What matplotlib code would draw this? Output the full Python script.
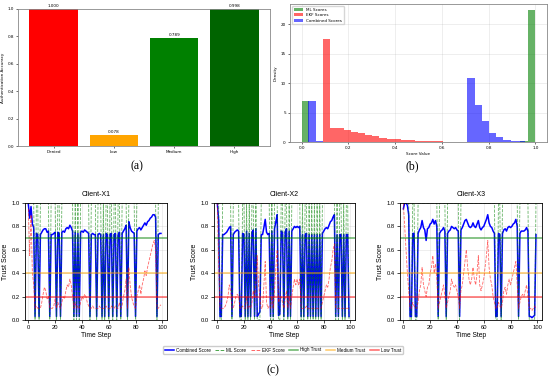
import numpy as np
import matplotlib
matplotlib.use("Agg")
import matplotlib.pyplot as plt
from matplotlib.lines import Line2D

# ---------------- data ----------------
# (a) authentication accuracy per trust level
auth_levels = ["Denied", "Low", "Medium", "High"]
auth_accuracy = [1.000, 0.078, 0.789, 0.998]
auth_colors = ["red", "orange", "green", "darkgreen"]

# (b) score distributions (density per bin), bins given by range and count
ml_range = (0.0, 1.0)
ml_density = [7.0, 0, 0, 0, 0, 0, 0, 0, 0, 0, 0, 0, 0, 0, 0,
              0, 0, 0, 0, 0, 0, 0, 0, 0, 0, 0, 0, 0, 0.25, 22.4]
ekf_range = (0.0905, 1.0)
ekf_density = [17.4, 2.3, 2.35, 2.1, 1.7, 1.45, 1.2, 0.95, 0.75, 0.55,
               0.45, 0.36, 0.28, 0.22, 0.17, 0.13, 0.1, 0.08, 0.06, 0.05,
               0.03, 0.02, 0.01, 0.01, 0, 0, 0, 0, 0, 0.01]
comb_range = (0.029, 0.956)
comb_density = [6.9, 0.2, 0.03, 0.03, 0.03, 0.03, 0.03, 0.03, 0.03, 0.03,
                0.03, 0.03, 0.03, 0.03, 0.03, 0.03, 0.03, 0.04, 0.04, 0.05,
                0.05, 0.06, 10.9, 6.3, 3.5, 1.5, 0.8, 0.4, 0.2, 0.15]

# (c) trust score time series for three clients
time_steps = list(range(100))
client_names = ["Client-X1", "Client-X2", "Client-X3"]

x1_ml = [1, 1, 1, 1, 1, 0, 1, 1, 0, 1,
         1, 1, 1, 1, 1, 1, 0, 1, 1, 1,
         1, 0, 1, 1, 0, 1, 1, 1, 1, 1,
         1, 1, 1, 1, 0, 1, 0, 1, 0, 1,
         1, 1, 1, 1, 1, 1, 0, 1, 1, 1,
         1, 0, 1, 1, 1, 0, 1, 0, 1, 1,
         0, 1, 1, 0, 1, 1, 0, 1, 1, 0,
         1, 1, 1, 1, 0, 1, 1, 1, 1, 1,
         0, 1, 1, 1, 1, 1, 1, 1, 1, 1,
         1, 1, 1, 1, 1, 1, 0, 1, 1, 1]
x1_ekf = [0.95, 0.55, 0.9, 0.4, 0.3, 0.1, 0.12, 0.1, 0.1, 0.1,
          0.15, 0.22, 0.28, 0.25, 0.18, 0.2, 0.1, 0.1, 0.1, 0.12,
          0.18, 0.1, 0.15, 0.12, 0.1, 0.15, 0.2, 0.18, 0.25, 0.3,
          0.28, 0.35, 0.3, 0.2, 0.1, 0.15, 0.1, 0.12, 0.1, 0.15,
          0.2, 0.18, 0.22, 0.2, 0.15, 0.12, 0.1, 0.1, 0.12, 0.1,
          0.1, 0.1, 0.1, 0.12, 0.1, 0.1, 0.1, 0.1, 0.12, 0.1,
          0.1, 0.1, 0.12, 0.1, 0.1, 0.12, 0.1, 0.1, 0.15, 0.1,
          0.12, 0.2, 0.25, 0.35, 0.1, 0.45, 0.3, 0.2, 0.15, 0.12,
          0.1, 0.2, 0.25, 0.3, 0.22, 0.3, 0.35, 0.42, 0.38, 0.45,
          0.5, 0.55, 0.6, 0.65, 0.68, 0.6, 0.1, 0.1, 0.12, 0.13]
x1_comb = [0.99, 0.87, 0.97, 0.82, 0.79, 0.03, 0.74, 0.73, 0.03, 0.73,
           0.75, 0.77, 0.78, 0.78, 0.75, 0.76, 0.03, 0.73, 0.73, 0.74,
           0.75, 0.03, 0.75, 0.74, 0.03, 0.75, 0.76, 0.75, 0.78, 0.79,
           0.78, 0.81, 0.79, 0.76, 0.03, 0.75, 0.03, 0.74, 0.03, 0.75,
           0.76, 0.75, 0.77, 0.76, 0.75, 0.74, 0.03, 0.73, 0.74, 0.73,
           0.73, 0.03, 0.73, 0.74, 0.73, 0.03, 0.73, 0.03, 0.74, 0.73,
           0.03, 0.73, 0.74, 0.03, 0.73, 0.74, 0.03, 0.73, 0.75, 0.03,
           0.74, 0.76, 0.78, 0.81, 0.03, 0.84, 0.79, 0.76, 0.75, 0.74,
           0.03, 0.76, 0.78, 0.79, 0.77, 0.79, 0.81, 0.83, 0.81, 0.84,
           0.85, 0.87, 0.88, 0.9, 0.9, 0.88, 0.03, 0.73, 0.74, 0.74]

x2_ml = [1, 1, 0, 0, 1, 1, 1, 1, 1, 1,
         1, 0, 1, 1, 1, 1, 1, 0, 0, 1,
         1, 0, 1, 0, 1, 0, 1, 1, 0, 1,
         0, 0, 0, 1, 1, 1, 1, 1, 1, 1,
         0, 1, 0, 1, 1, 1, 0, 0, 1, 1,
         0, 1, 1, 0, 1, 0, 1, 1, 1, 1,
         1, 1, 1, 0, 1, 0, 1, 1, 0, 1,
         0, 1, 0, 1, 0, 1, 0, 1, 0, 1,
         1, 1, 1, 1, 1, 1, 1, 1, 1, 0,
         1, 0, 1, 1, 0, 1, 0, 1, 1, 0]
x2_ekf = [1.0, 0.5, 0.1, 0.1, 0.1, 0.1, 0.12, 0.15, 0.2, 0.3,
          0.25, 0.1, 0.1, 0.15, 0.2, 0.22, 0.2, 0.1, 0.1, 0.12,
          0.1, 0.1, 0.2, 0.1, 0.12, 0.1, 0.15, 0.25, 0.2, 0.3,
          0.55, 0.3, 0.2, 0.1, 0.1, 0.3, 0.5, 0.15, 0.1, 0.12,
          0.1, 0.2, 0.1, 0.25, 0.45, 0.6, 0.15, 0.18, 0.2, 0.15,
          0.1, 0.18, 0.25, 0.1, 0.2, 0.1, 0.2, 0.28, 0.35, 0.3,
          0.35, 0.3, 0.35, 0.1, 0.1, 0.1, 0.1, 0.12, 0.1, 0.1,
          0.1, 0.1, 0.1, 0.1, 0.1, 0.1, 0.1, 0.1, 0.1, 0.15,
          0.2, 0.25, 0.3, 0.28, 0.35, 0.45, 0.5, 0.6, 0.65, 0.1,
          0.1, 0.1, 0.1, 0.1, 0.1, 0.1, 0.1, 0.1, 0.1, 0.1]
x2_comb = [1.0, 0.85, 0.03, 0.03, 0.73, 0.73, 0.74, 0.75, 0.77, 0.79,
           0.8, 0.03, 0.73, 0.75, 0.76, 0.77, 0.76, 0.03, 0.03, 0.74,
           0.73, 0.03, 0.76, 0.03, 0.74, 0.03, 0.75, 0.77, 0.03, 0.78,
           0.03, 0.05, 0.07, 0.73, 0.73, 0.79, 0.86, 0.75, 0.73, 0.74,
           0.03, 0.76, 0.03, 0.78, 0.84, 0.9, 0.04, 0.05, 0.76, 0.75,
           0.03, 0.75, 0.78, 0.03, 0.76, 0.03, 0.76, 0.78, 0.8, 0.79,
           0.8, 0.79, 0.8, 0.03, 0.73, 0.03, 0.73, 0.74, 0.03, 0.73,
           0.03, 0.73, 0.03, 0.73, 0.03, 0.73, 0.03, 0.73, 0.03, 0.74,
           0.76, 0.78, 0.79, 0.78, 0.81, 0.84, 0.85, 0.88, 0.9, 0.03,
           0.73, 0.03, 0.73, 0.73, 0.03, 0.73, 0.03, 0.73, 0.73, 0.03]

x3_ml = [1, 1, 1, 1, 1, 0, 0, 1, 1, 0,
         0, 1, 1, 1, 1, 1, 1, 1, 1, 1,
         1, 1, 1, 1, 1, 1, 0, 1, 1, 1,
         1, 1, 0, 1, 1, 1, 1, 1, 1, 1,
         1, 1, 0, 1, 1, 1, 1, 1, 1, 1,
         1, 1, 1, 1, 1, 1, 1, 1, 1, 1,
         1, 1, 1, 1, 1, 1, 1, 1, 1, 0,
         0, 1, 1, 0, 1, 1, 1, 1, 1, 1,
         1, 1, 1, 1, 1, 1, 0, 1, 1, 1,
         1, 1, 1, 1, 0, 0, 0, 0, 0, 1]
x3_ekf = [1.0, 0.8, 0.6, 0.4, 0.25, 0.1, 0.1, 0.15, 0.12, 0.1,
          0.1, 0.15, 0.25, 0.3, 0.45, 0.3, 0.25, 0.2, 0.28, 0.3,
          0.4, 0.45, 0.55, 0.4, 0.48, 0.35, 0.1, 0.15, 0.2, 0.25,
          0.3, 0.2, 0.1, 0.15, 0.2, 0.25, 0.35, 0.3, 0.28, 0.3,
          0.25, 0.2, 0.1, 0.25, 0.3, 0.4, 0.5, 0.6, 0.45, 0.35,
          0.3, 0.35, 0.45, 0.35, 0.3, 0.4, 0.55, 0.3, 0.25, 0.3,
          0.35, 0.45, 0.55, 0.68, 0.45, 0.35, 0.3, 0.2, 0.15, 0.1,
          0.1, 0.15, 0.12, 0.1, 0.15, 0.25, 0.28, 0.22, 0.3, 0.35,
          0.3, 0.35, 0.4, 0.45, 0.5, 0.3, 0.1, 0.15, 0.2, 0.22,
          0.2, 0.25, 0.3, 0.2, 0.1, 0.1, 0.08, 0.1, 0.12, 0.1]
x3_comb = [0.95, 1.0, 1.0, 0.98, 0.9, 0.03, 0.03, 0.74, 0.74, 0.03,
           0.03, 0.74, 0.77, 0.79, 0.85, 0.79, 0.77, 0.68, 0.78, 0.79,
           0.82, 0.83, 0.86, 0.82, 0.85, 0.8, 0.03, 0.74, 0.76, 0.77,
           0.79, 0.76, 0.03, 0.74, 0.76, 0.77, 0.8, 0.79, 0.78, 0.79,
           0.77, 0.76, 0.03, 0.77, 0.79, 0.82, 0.85, 0.86, 0.83, 0.8,
           0.79, 0.8, 0.83, 0.8, 0.79, 0.82, 0.85, 0.79, 0.77, 0.79,
           0.8, 0.83, 0.86, 0.9, 0.83, 0.8, 0.79, 0.76, 0.74, 0.03,
           0.03, 0.74, 0.73, 0.03, 0.74, 0.77, 0.78, 0.76, 0.79, 0.8,
           0.79, 0.8, 0.82, 0.83, 0.86, 0.8, 0.03, 0.74, 0.76, 0.76,
           0.76, 0.77, 0.79, 0.76, 0.03, 0.03, 0.02, 0.03, 0.04, 0.73]

clients_ml = [x1_ml, x2_ml, x3_ml]
clients_ekf = [x1_ekf, x2_ekf, x3_ekf]
clients_comb = [x1_comb, x2_comb, x3_comb]

trust_levels = [0.7, 0.4, 0.2]
trust_names = ["High Trust", "Medium Trust", "Low Trust"]
trust_colors = ["green", "orange", "red"]

# ---------------- figure ----------------
W, H = 550, 380
fig = plt.figure(figsize=(5.5, 3.8), dpi=100)
narrow = ["Liberation Sans Narrow", "Liberation Sans", "DejaVu Sans"]


def rect(l, t, r, b):
    return [l / W, 1 - b / H, (r - l) / W, (b - t) / H]


small = 3.0
frame_col = "#888888"

# (a)
ax_a = fig.add_axes(rect(18, 9, 270, 146))
bars = ax_a.bar(auth_levels, auth_accuracy, color=auth_colors, width=0.8)
for b, v in zip(bars, auth_accuracy):
    ax_a.text(b.get_x() + b.get_width() / 2, v + 0.01, f"{v:.3f}",
              ha="center", va="bottom", fontsize=small)
ax_a.set_ylim(0, 1.0)
ax_a.set_ylabel("Authentication Accuracy", fontsize=small, labelpad=1.5)
ax_a.tick_params(labelsize=small, length=1.5, width=0.4, pad=1.5)
for s in ax_a.spines.values():
    s.set_color(frame_col)
    s.set_linewidth(0.6)

# (b)
ax_b = fig.add_axes(rect(290, 4, 547, 142))
for rng, dens, col, lab in [(ml_range, ml_density, "green", "ML Scores"),
                            (ekf_range, ekf_density, "red", "EKF Scores"),
                            (comb_range, comb_density, "blue", "Combined Scores")]:
    edges = np.linspace(rng[0], rng[1], len(dens) + 1)
    ax_b.bar(edges[:-1], dens, width=np.diff(edges), align="edge",
             color=col, alpha=0.6, label=lab, linewidth=0)
ax_b.set_xlim(-0.05, 1.05)
ax_b.set_ylim(0, 23.4)
ax_b.set_xlabel("Score Value", fontsize=small, labelpad=1.5)
ax_b.set_ylabel("Density", fontsize=small, labelpad=2)
ax_b.tick_params(labelsize=small, length=1.5, width=0.4, pad=1.5)
ax_b.grid(True, alpha=0.3, linewidth=0.5)
ax_b.set_axisbelow(True)
ax_b.legend(loc="upper left", fontsize=small, frameon=True, handlelength=2.2,
            borderpad=0.4, labelspacing=0.35, framealpha=0.8)
for s in ax_b.spines.values():
    s.set_color(frame_col)
    s.set_linewidth(0.6)

# (c)
c_rects = [rect(25, 203, 167, 320), rect(214, 203, 355, 320), rect(400, 203, 542, 320)]
for i, name in enumerate(client_names):
    ax = fig.add_axes(c_rects[i])
    ax.plot(time_steps, clients_comb[i], color="blue", lw=1.1, label="Combined Score")
    ax.plot(time_steps, clients_ml[i], color="green", ls="--", lw=0.6, alpha=0.6,
            label="ML Score")
    ax.plot(time_steps, clients_ekf[i], color="red", ls="--", lw=0.6, alpha=0.6,
            label="EKF Score")
    for lvl, lname, col in zip(trust_levels, trust_names, trust_colors):
        ax.axhline(lvl, color=col, lw=1.1, alpha=0.6, label=lname)
    ax.set_xlim(-2.5, 103.5)
    ax.set_ylim(0, 1.0)
    ax.set_xticks([0, 20, 40, 60, 80, 100])
    ax.set_yticks([0.0, 0.2, 0.4, 0.6, 0.8, 1.0])
    ax.set_title(name, fontsize=5, pad=5, family=narrow)
    ax.set_xlabel("Time Step", fontsize=4.8, labelpad=1.5, family=narrow)
    ax.set_ylabel("Trust Score", fontsize=5, labelpad=2, family=narrow)
    ax.tick_params(labelsize=4.2, length=2, width=0.5, pad=1.5)
    for lab in ax.get_xticklabels() + ax.get_yticklabels():
        lab.set_family(narrow)
    ax.grid(True, alpha=0.3, linewidth=0.5)
    for s in ax.spines.values():
        s.set_linewidth(0.6)

handles = [Line2D([], [], color="blue", lw=1.1),
           Line2D([], [], color="green", ls="--", lw=0.7, alpha=0.7),
           Line2D([], [], color="red", ls="--", lw=0.7, alpha=0.6)] + \
          [Line2D([], [], color=c, lw=1.1, alpha=0.6) for c in trust_colors]
labels = ["Combined Score", "ML Score", "EKF Score"] + trust_names
fig.legend(handles, labels, loc="center", bbox_to_anchor=(283 / W, 1 - 350 / H),
           ncol=6, prop={"family": narrow, "size": 3.3}, frameon=True,
           handlelength=2.0, columnspacing=0.9, handletextpad=0.5,
           borderpad=0.4, framealpha=1, edgecolor="#cccccc")

cap_font = dict(family="Liberation Serif", fontsize=8.5, ha="center", va="center")
fig.text(137 / W, 1 - 166 / H, "(a)", **cap_font)
fig.text(412 / W, 1 - 166 / H, "(b)", **cap_font)
fig.text(273 / W, 1 - 370 / H, "(c)", **cap_font)

fig.savefig("out.png", dpi=100)
